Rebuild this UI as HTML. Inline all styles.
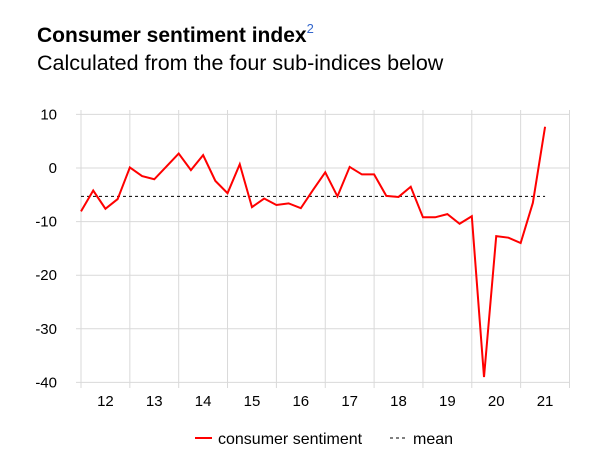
<!DOCTYPE html>
<html><head><meta charset="utf-8"><style>
body{margin:0;background:#fff;font-family:"Liberation Sans",Arial,sans-serif;}
</style></head><body>
<div style="position:relative;width:601px;height:476px;overflow:hidden">
<div style="position:absolute;left:37px;top:21px;font-size:21px;font-weight:bold;color:#000;white-space:nowrap">Consumer sentiment index<sup style="font-weight:normal;color:#3366cc;font-size:13px;vertical-align:9px">2</sup></div>
<div style="position:absolute;left:37px;top:51px;font-size:21.5px;color:#000;white-space:nowrap">Calculated from the four sub-indices below</div>
<svg id="svg" width="601" height="476" style="position:absolute;left:0;top:0"></svg>
</div>
<script>
const values=[-8.1,-4.2,-7.6,-5.8,0.1,-1.5,-2.1,0.3,2.7,-0.4,2.4,-2.4,-4.7,0.7,-7.3,-5.7,-6.9,-6.6,-7.5,-4.1,-0.8,-5.3,0.2,-1.2,-1.2,-5.2,-5.4,-3.5,-9.2,-9.2,-8.6,-10.4,-9.0,-39.0,-12.7,-13.0,-14.0,-6.5,7.7];
const meanValue=-5.3;
const yTicks=[10,0,-10,-20,-30,-40];
const xLabels=["12","13","14","15","16","17","18","19","20","21"];
const NS="http://www.w3.org/2000/svg";
const svg=document.getElementById('svg');
const x0=81,yearW=48.85,qW=yearW/4;
const xq=i=>x0+i*qW;
const y=v=>168-v*5.36;
function mk(t,a){const e=document.createElementNS(NS,t);for(const k in a)e.setAttribute(k,a[k]);svg.appendChild(e);return e;}
yTicks.forEach(v=>{
  const g=mk('line',{x1:76,x2:570,y1:y(v),y2:y(v),stroke:'#d9d9d9','stroke-width':1});
  
  
  const t=mk('text',{x:57,y:y(v)+5,'text-anchor':'end','font-size':15,fill:'#000'});
  t.textContent=v;
  
  
});
for(let k=0;k<=xLabels.length;k++){
  const gx=x0+k*yearW;
  const g=mk('line',{x1:gx,x2:gx,y1:110,y2:388,stroke:'#d9d9d9','stroke-width':1});
  
  
}
xLabels.forEach((l,k)=>{
  const t=mk('text',{x:x0+(k+0.5)*yearW,y:406,'text-anchor':'middle','font-size':15,fill:'#000'});
  t.textContent=l;
  
  
});
const m=mk('line',{x1:xq(0),x2:xq(values.length-1),y1:y(meanValue),y2:y(meanValue),stroke:'#000','stroke-width':1,'stroke-dasharray':'3,3'});


const p=mk('polyline',{points:values.map((v,i)=>xq(i)+','+y(v)).join(' '),fill:'none',stroke:'#ff0000','stroke-width':2,'stroke-linejoin':'miter'});


const l1=mk('line',{x1:195,x2:212,y1:438,y2:438,stroke:'#ff0000','stroke-width':2});


const t1=mk('text',{x:218,y:444,'font-size':16,fill:'#000'});t1.textContent='consumer sentiment';


const l2=mk('line',{x1:390,x2:405,y1:438,y2:438,stroke:'#000','stroke-width':1,'stroke-dasharray':'3,3'});


const t2=mk('text',{x:413,y:444,'font-size':16,fill:'#000'});t2.textContent='mean';


</script>
</body></html>
